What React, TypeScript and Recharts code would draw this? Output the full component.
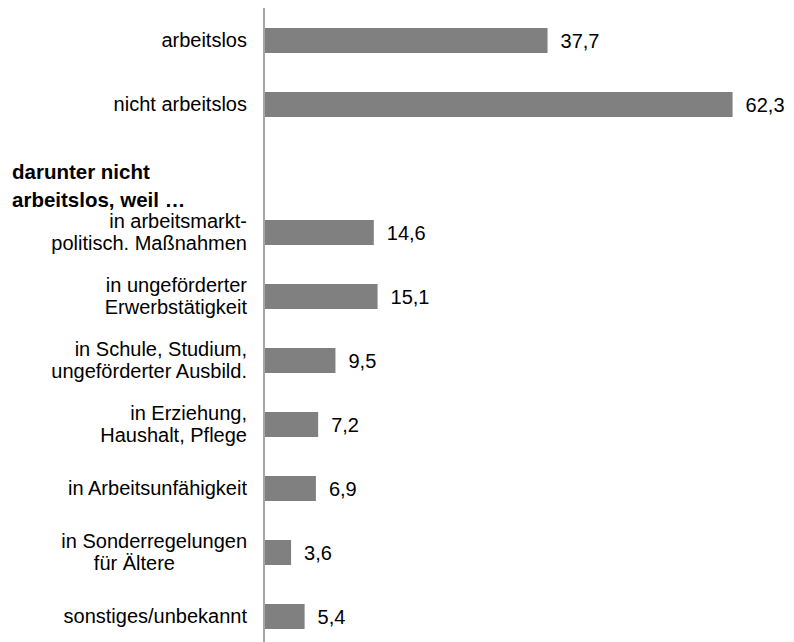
import React from "react"
import { BarChart, Bar, XAxis, YAxis, LabelList } from "recharts"

const categories = [
  "arbeitslos",
  "nicht arbeitslos",
  "darunter nicht arbeitslos, weil …",
  "in arbeitsmarktpolitisch. Maßnahmen",
  "in ungeförderter Erwerbstätigkeit",
  "in Schule, Studium, ungeförderter Ausbild.",
  "in Erziehung, Haushalt, Pflege",
  "in Arbeitsunfähigkeit",
  "in Sonderregelungen für Ältere",
  "sonstiges/unbekannt",
]

const labelLines = [
  ["arbeitslos"],
  ["nicht arbeitslos"],
  ["darunter nicht", "arbeitslos, weil …"],
  ["in arbeitsmarkt-", "politisch. Maßnahmen"],
  ["in ungeförderter", "Erwerbstätigkeit"],
  ["in Schule, Studium,", "ungeförderter Ausbild."],
  ["in Erziehung,", "Haushalt, Pflege"],
  ["in Arbeitsunfähigkeit"],
  ["in Sonderregelungen", "für Ältere"],
  ["sonstiges/unbekannt"],
]

const values: (number | null)[] = [37.7, 62.3, null, 14.6, 15.1, 9.5, 7.2, 6.9, 3.6, 5.4]

const data = categories.map((c, i) => ({ name: c, value: values[i] }))

const FONT = "'Liberation Sans', Arial, sans-serif"
const HEADING = "darunter nicht arbeitslos, weil …"

function CategoryTick({ y, payload }: any) {
  const idx = categories.indexOf(payload.value)
  const lines = labelLines[idx] || [String(payload.value)]
  if (payload.value === HEADING) {
    return (
      <g>
        {lines.map((l, i) => (
          <text key={i} x={12} y={y + 4 + i * 28} dy="0.35em" textAnchor="start"
            fontFamily={FONT} fontSize={20.5} fontWeight="bold" fill="#000">
            {l}
          </text>
        ))}
      </g>
    )
  }
  const start = -((lines.length - 1) * 22) / 2
  return (
    <g>
      {lines.map((l, i) => (
        <text key={i} x={l === "für Ältere" ? 175 : 247} y={y + start + i * 22} dy="0.35em" textAnchor="end"
          fontFamily={FONT} fontSize={20} fill="#000">
          {l}
        </text>
      ))}
    </g>
  )
}

export default function App() {
  return (
    <div style={{ position: "absolute", left: 0, top: 0, background: "#fff" }}>
      <BarChart width={794} height={650} data={data} layout="vertical"
        margin={{ top: 8, right: 3.5, bottom: 2, left: 0 }}>
        <XAxis type="number" domain={[0, 70]} hide />
        <YAxis type="category" dataKey="name" width={264} tickLine={false}
          axisLine={{ stroke: "#a6a6a6", strokeWidth: 2 }} tick={<CategoryTick />} interval={0} />
        <Bar dataKey="value" fill="#808080" barSize={25} isAnimationActive={false}>
          <LabelList dataKey="value" position="right" offset={13}
            formatter={(v: any) => (v == null ? "" : Number(v).toFixed(1).replace(".", ","))}
            style={{ fontFamily: FONT, fontSize: 20, fill: "#000" }} />
        </Bar>
      </BarChart>
    </div>
  )
}
